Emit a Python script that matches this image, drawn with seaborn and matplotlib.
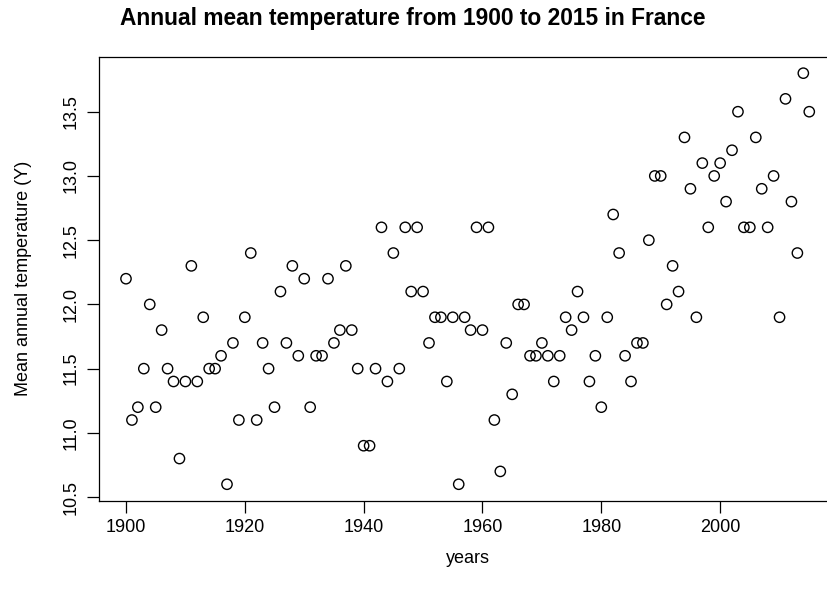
import matplotlib
matplotlib.use("Agg")
import matplotlib.pyplot as plt
import seaborn as sns
import pandas as pd

# annual mean temperature in France, one value per year
years = list(range(1900, 2016))
temps = [
    12.2, 11.1, 11.2, 11.5, 12.0, 11.2, 11.8, 11.5, 11.4, 10.8,  # 1900s
    11.4, 12.3, 11.4, 11.9, 11.5, 11.5, 11.6, 10.6, 11.7, 11.1,  # 1910s
    11.9, 12.4, 11.1, 11.7, 11.5, 11.2, 12.1, 11.7, 12.3, 11.6,  # 1920s
    12.2, 11.2, 11.6, 11.6, 12.2, 11.7, 11.8, 12.3, 11.8, 11.5,  # 1930s
    10.9, 10.9, 11.5, 12.6, 11.4, 12.4, 11.5, 12.6, 12.1, 12.6,  # 1940s
    12.1, 11.7, 11.9, 11.9, 11.4, 11.9, 10.6, 11.9, 11.8, 12.6,  # 1950s
    11.8, 12.6, 11.1, 10.7, 11.7, 11.3, 12.0, 12.0, 11.6, 11.6,  # 1960s
    11.7, 11.6, 11.4, 11.6, 11.9, 11.8, 12.1, 11.9, 11.4, 11.6,  # 1970s
    11.2, 11.9, 12.7, 12.4, 11.6, 11.4, 11.7, 11.7, 12.5, 13.0,  # 1980s
    13.0, 12.0, 12.3, 12.1, 13.3, 12.9, 11.9, 13.1, 12.6, 13.0,  # 1990s
    13.1, 12.8, 13.2, 13.5, 12.6, 12.6, 13.3, 12.9, 12.6, 13.0,  # 2000s
    11.9, 13.6, 12.8, 12.4, 13.8, 13.5,                          # 2010s
]
x_ticks = [1900, 1920, 1940, 1960, 1980, 2000]
y_ticks = [10.5, 11.0, 11.5, 12.0, 12.5, 13.0, 13.5]

df = pd.DataFrame({"years": years, "temp": temps})

sns.set_style("ticks")
plt.rcParams["font.family"] = ["Liberation Sans", "DejaVu Sans"]
plt.rcParams["text.color"] = "black"
plt.rcParams["axes.labelcolor"] = "black"

fig = plt.figure(figsize=(8.27, 5.99), dpi=100)
# R-style plot region, right side runs past the image edge
ax = fig.add_axes([0.1193, 0.1641, 0.8923, 0.7412])

sns.scatterplot(data=df, x="years", y="temp", ax=ax, s=55,
                facecolors="none", edgecolor="black", linewidth=1.0)

# R default 4% padding on both axes
xr = max(years) - min(years)
yr = max(temps) - min(temps)
ax.set_xlim(min(years) - 0.04 * xr, max(years) + 0.04 * xr)
ax.set_ylim(min(temps) - 0.04 * yr, max(temps) + 0.04 * yr)

ax.set_xticks(x_ticks)
ax.set_xticklabels([str(t) for t in x_ticks])
ax.set_yticks(y_ticks)
ax.set_yticklabels([f"{t:.1f}" for t in y_ticks], rotation=90, va="center")
ax.tick_params(axis="both", direction="out", length=8.5, width=0.9,
               labelsize=13, pad=5, colors="black")

for sp in ax.spines.values():
    sp.set_visible(True)
    sp.set_linewidth(0.9)
    sp.set_color("black")

ax.set_xlabel("years", fontsize=13, labelpad=10)
ax.set_ylabel("Mean annual temperature (Y)", fontsize=13, labelpad=22)

fig.text(413 / 827, 1 - 19 / 599, "Annual mean temperature from 1900 to 2015 in France",
         ha="center", va="center", fontsize=16.4, fontweight="bold")

fig.savefig("out.png", dpi=100)
